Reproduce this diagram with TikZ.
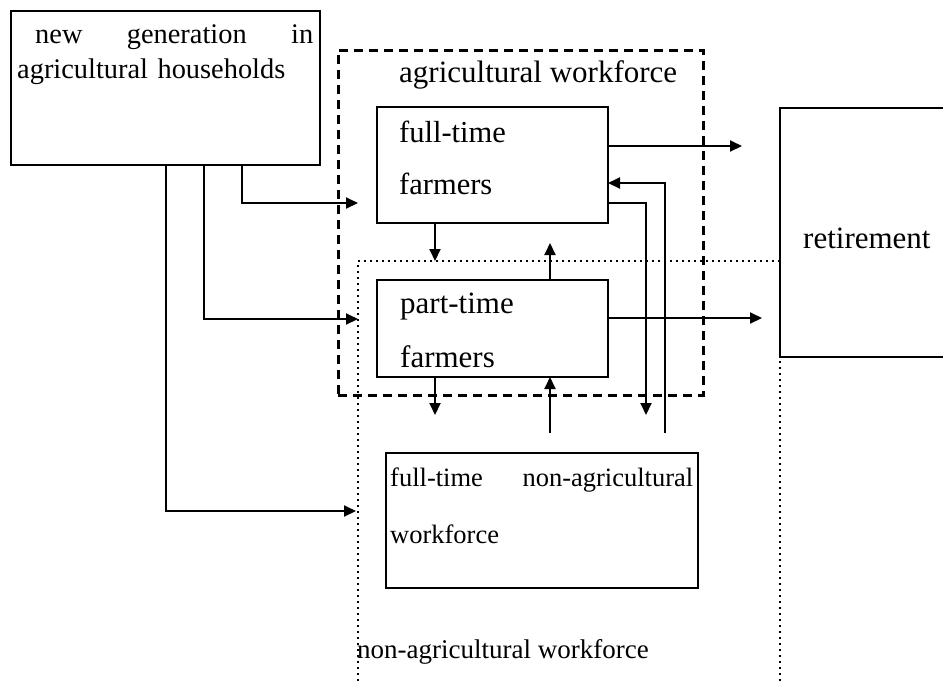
\documentclass[tikz,border=0pt]{standalone}
\usepackage{fontspec}
\setmainfont{Liberation Serif}
\usetikzlibrary{positioning,arrows.meta}

\begin{document}
\begin{tikzpicture}[
x=1pt, y=1pt,
box/.style={draw, line width=2pt, inner sep=0pt, outer sep=0pt},
group/.style={draw, line width=3pt, dash pattern=on 9pt off 6pt, inner sep=0pt, outer sep=0pt},
zone/.style={draw, line width=2pt, dash pattern=on 2pt off 4pt, inner sep=0pt, outer sep=0pt},
txt/.style={anchor=base west, inner sep=0pt, align=left},
arr/.style={line width=2pt, -{Triangle[length=12pt,width=11pt]}},
]
\useasboundingbox (0,0) rectangle (943,-681);
\clip (0,0) rectangle (943,-681);

\node[zone, minimum width=422, minimum height=460] (nonag) at (569,-491) {};
\node[group, minimum width=365, minimum height=345] (agri) at (520.5,-222.5) {};
\node[box, minimum width=309, minimum height=154] (gen) at (165.5,-88) {};
\node[box, minimum width=231, minimum height=116] (ftf) at (492.5,-165) {};
\node[box, minimum width=231, minimum height=97] (ptf) at (492.5,-328.5) {};
\node[box, minimum width=312, minimum height=135] (fna) at (542,-520.5) {};
\node[box, minimum width=175, minimum height=249] (ret) at (867.5,-232.5) {};

\node[txt, text width=296, font={\fontsize{28.4}{35}\selectfont}] (gen text) at (17,-43)
  {\hspace*{18pt}new\hfill generation\hfill in\\agricultural households};
\node[txt, font={\fontsize{31}{36}\selectfont}] (agri text) at (399,-82) {agricultural workforce};
\node[txt, text width=200, font={\fontsize{30.5}{52}\selectfont}] (ftf text) at (399,-142) {full-time\\farmers};
\node[txt, text width=200, font={\fontsize{31}{54}\selectfont}] (ptf text) at (400,-313) {part-time\\farmers};
\node[txt, text width=303, font={\fontsize{26.5}{57}\selectfont}] (fna text) at (390,-486)
  {full-time\hfill non-agricultural\\workforce};
\node[txt, font={\fontsize{27}{32}\selectfont}] (nonag text) at (357,-658) {non-agricultural workforce};
\node[txt, font={\fontsize{31}{36}\selectfont}] (ret text) at (803,-248) {retirement};

\coordinate (ftf in) at (358,-203);
\coordinate (ptf in) at (358,-319);
\coordinate (fna in) at (356,-511);
\coordinate (down1) at (435,-261);
\coordinate (up1) at (550,-243);
\coordinate (down2) at (435,-415);
\coordinate (up2) at (550,-433);
\coordinate (down3) at (646,-415);
\coordinate (up3) at (665,-433);
\coordinate (ret1) at (742,-146);
\coordinate (ret2) at (762,-318);

\draw[arr] ([xshift=76.5]gen.south) |- (ftf in);
\draw[arr] ([xshift=38.5]gen.south) |- (ptf in);
\draw[arr] (gen.south) |- (fna in);
\draw[arr] ([xshift=-57.5]ftf.south) -- (down1);
\draw[arr] ([xshift=57.5]ptf.north) -- (up1);
\draw[arr] ([xshift=-57.5]ptf.south) -- (down2);
\draw[arr] (up2) -- ([xshift=57.5]ptf.south);
\draw[arr] ([yshift=-38]ftf.east) -| (down3);
\draw[arr] (up3) |- ([yshift=-18]ftf.east);
\draw[arr] ([yshift=19]ftf.east) -- (ret1);
\draw[arr] ([yshift=10.5]ptf.east) -- (ret2);
\end{tikzpicture}
\end{document}
